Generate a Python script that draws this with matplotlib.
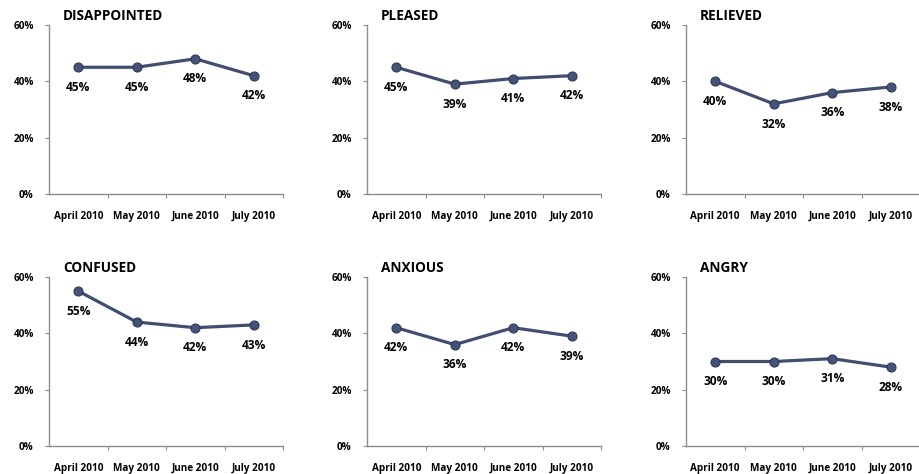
import matplotlib
matplotlib.use("Agg")
import matplotlib.pyplot as plt
from matplotlib.ticker import FuncFormatter

plt.rcParams['font.family'] = ['Open Sans', 'DejaVu Sans']
plt.rcParams['font.weight'] = 'bold'

months = ["April 2010", "May 2010", "June 2010", "July 2010"]
titles = ["DISAPPOINTED", "PLEASED", "RELIEVED", "CONFUSED", "ANXIOUS", "ANGRY"]
disappointed = [45, 45, 48, 42]
pleased = [45, 39, 41, 42]
relieved = [40, 32, 36, 38]
confused = [55, 44, 42, 43]
anxious = [42, 36, 42, 39]
angry = [30, 30, 31, 28]
series = [disappointed, pleased, relieved, confused, anxious, angry]
yticks = [0, 20, 40, 60]

W, H = 919, 474
fig = plt.figure(figsize=(W / 100, H / 100), dpi=100)
fig.patch.set_facecolor('white')

lefts = [49, 367, 686]
tops = [25, 277]
aw, ah = 234, 169
line_c = '#414E70'
spine_c = '#8C8C8C'

for i, (title, vals) in enumerate(zip(titles, series)):
    r, c = divmod(i, 3)
    l = lefts[c]
    t = tops[r]
    ax = fig.add_axes([l / W, 1 - (t + ah) / H, aw / W, ah / H])
    x = list(range(len(months)))
    ax.plot(x, vals, color=line_c, lw=2.3, marker='o', ms=6.5,
            mfc='#45527A', mec='#2E3A55', mew=0.8, zorder=3)
    for xi, v in zip(x, vals):
        ax.annotate(f"{v}%", (xi, v), xytext=(0, -14.5), textcoords='offset points',
                    ha='center', va='center', fontsize=8.6, fontweight='bold')
    ax.set_xlim(-0.5, 3.5)
    ax.set_ylim(0, 60)
    ax.set_yticks(yticks)
    ax.yaxis.set_major_formatter(FuncFormatter(lambda v, p: f"{int(v)}%"))
    ax.set_xticks([0.5, 1.5, 2.5, 3.5])
    ax.set_xticklabels([])
    ax.set_xticks(x, minor=True)
    ax.set_xticklabels(months, minor=True)
    ax.tick_params(axis='x', which='minor', length=0, pad=12, labelsize=7.2)
    ax.tick_params(axis='x', which='major', length=3, direction='out', color=spine_c)
    ax.tick_params(axis='y', length=3, direction='out', color=spine_c, pad=8, labelsize=7.2)
    for s in ['top', 'right']:
        ax.spines[s].set_visible(False)
    for s in ['left', 'bottom']:
        ax.spines[s].set_color(spine_c)
        ax.spines[s].set_linewidth(1.0)
    fig.text((l + 14) / W, 1 - (t - 9) / H, title, fontsize=9.8, fontweight='bold',
             ha='left', va='center')

fig.savefig('out.png', dpi=100)
